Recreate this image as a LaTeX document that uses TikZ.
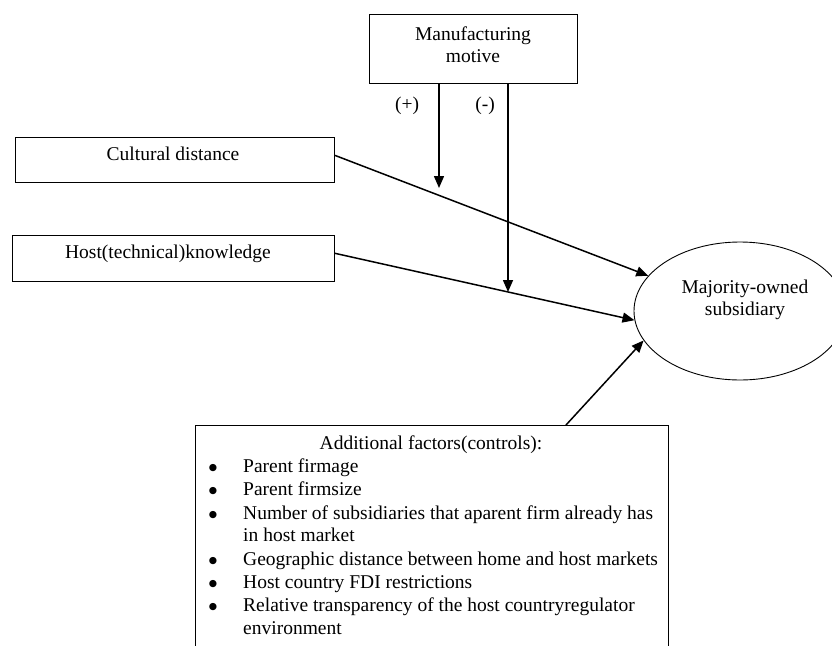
\documentclass[tikz,border=0pt]{standalone}
\usepackage{fontspec}
\setmainfont{Liberation Serif}
\newfontfamily\symfont{DejaVu Sans}
\usetikzlibrary{arrows.meta,shapes.geometric,calc}
\begin{document}
\begin{tikzpicture}[x=1pt,y=-1pt,
  font=\fontsize{19.5}{22}\selectfont,
  box/.style={draw, line width=1pt, rectangle, inner sep=0pt, anchor=north west},
  arr/.style={line width=1.5pt, -{Triangle[length=12pt,width=10pt]}},
  txt/.style={inner sep=0pt, text height=13pt, text depth=4pt},
  item/.style={txt, anchor=west},
  bul/.style={inner sep=0pt, font=\symfont\fontsize{9.5}{11}\selectfont},
]
\useasboundingbox (0,0) rectangle (832,645);
\clip (0,0) rectangle (832,645);
% boxes
\node[box, minimum width=208pt, minimum height=69pt] (mf) at (369,14) {};
\node[align=center, inner sep=0pt] (mft) at (473,45) {Manufacturing\\motive};
\node[box, minimum width=319pt, minimum height=45pt] (cd) at (15,137) {};
\node[txt] (cdt) at (173,156) {Cultural distance};
\node[box, minimum width=322pt, minimum height=46pt] (hk) at (12,235) {};
\node[txt] (hkt) at (168,254) {Host(technical)knowledge};
\node[draw, ellipse, line width=0.9pt, minimum width=212pt, minimum height=138pt, inner sep=0pt] (mo) at (740,311) {};
\node[align=center, inner sep=0pt] (mot) at (745,300) {Majority-owned\\subsidiary};
\node[box, minimum width=473pt, minimum height=260pt] (ctrl) at (195,425) {};
% controls text
\node[txt] (ct) at (431,445) {Additional factors(controls):};
\node[bul] (b1) at (213,468) {●};
\node[item] (i1) at (243,468) {Parent firmage};
\node[bul] (b2) at (213,491) {●};
\node[item] (i2) at (243,491) {Parent firmsize};
\node[bul] (b3) at (213,515) {●};
\node[item] (i3) at (243,515) {Number of subsidiaries that aparent firm already has};
\node[item] (i3b) at (243,537) {in host market};
\node[bul] (b4) at (213,561) {●};
\node[item] (i4) at (243,561) {Geographic distance between home and host markets};
\node[bul] (b5) at (213,584) {●};
\node[item] (i5) at (243,584) {Host country FDI restrictions};
\node[bul] (b6) at (213,607) {●};
\node[item] (i6) at (243,607) {Relative transparency of the host countryregulator};
\node[item] (i6b) at (243,630) {environment};
% labels
\node[txt] (lp) at (407,106) {(+)};
\node[txt] (lm) at (485,106) {(-)};
% connectors
\coordinate (cds) at ($(cd.north east)!0.4!(cd.south east)$);
\coordinate (hks) at ($(hk.north east)!0.39!(hk.south east)$);
\coordinate (cts) at ($(ctrl.north west)+(371,0)$);
\coordinate (pe) at (439,188);
\coordinate (me) at (508,292);
\draw[arr] (cds) -- (mo);
\draw[arr] (hks) -- (mo.185);
\draw[arr] (cts) -- (mo.197);
\draw[arr] (mf.south -| pe) -- (pe);
\draw[arr] (mf.south -| me) -- (me);
\end{tikzpicture}
\end{document}
